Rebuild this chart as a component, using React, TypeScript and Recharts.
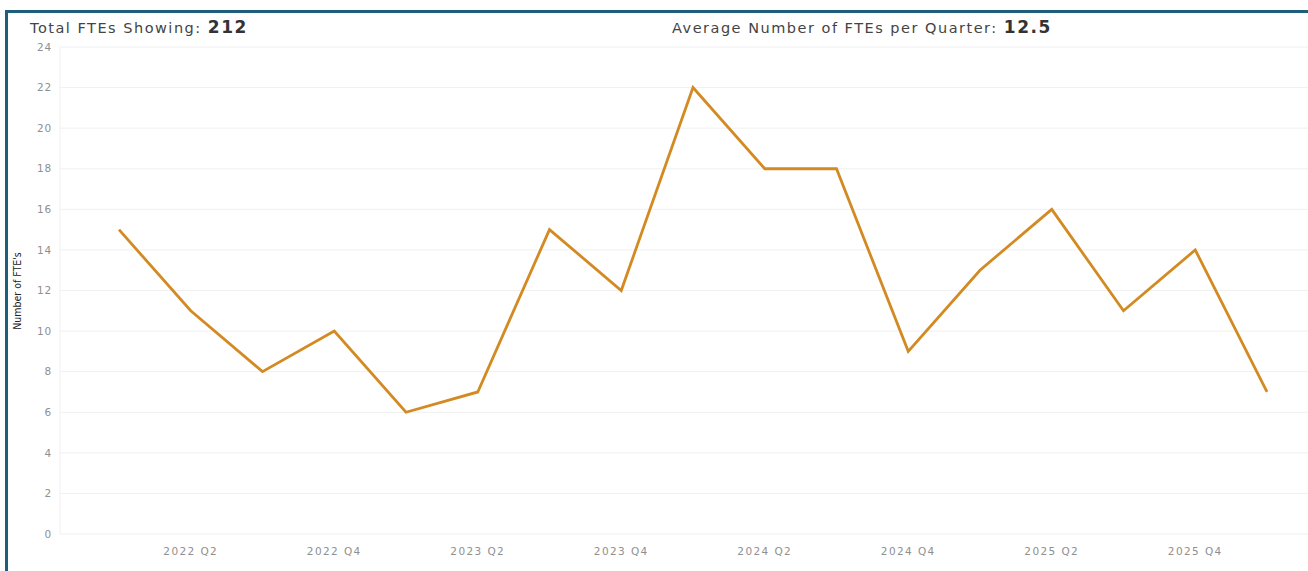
import React from 'react';
import { LineChart, Line, XAxis, YAxis, CartesianGrid } from 'recharts';

const quarters = [
  '2022 Q1', '2022 Q2', '2022 Q3', '2022 Q4',
  '2023 Q1', '2023 Q2', '2023 Q3', '2023 Q4',
  '2024 Q1', '2024 Q2', '2024 Q3', '2024 Q4',
  '2025 Q1', '2025 Q2', '2025 Q3', '2025 Q4',
  '2026 Q1',
];
const ftes = [15, 11, 8, 10, 6, 7, 15, 12, 22, 18, 18, 9, 13, 16, 11, 14, 7];
const yTicks = [0, 2, 4, 6, 8, 10, 12, 14, 16, 18, 20, 22, 24];
const shownLabels = ['2022 Q2', '2022 Q4', '2023 Q2', '2023 Q4', '2024 Q2', '2024 Q4', '2025 Q2', '2025 Q4'];

const totalLabel = 'Total FTEs Showing: ';
const totalValue = '212';
const avgLabel = 'Average Number of FTEs per Quarter: ';
const avgValue = '12.5';
const yAxisTitle = "Number of FTE's";

const data = quarters.map((q, i) => ({ quarter: q, value: ftes[i] }));

const FONT = '"DejaVu Sans", "Open Sans", sans-serif';

export default function App() {
  return (
    <div style={{ position: 'fixed', left: 0, top: 0, width: 1308, height: 571, background: '#fff', overflow: 'hidden', fontFamily: FONT }}>
      <div style={{ position: 'absolute', left: 5, top: 10, width: 1303, height: 3, background: '#1d5f7b' }} />
      <div style={{ position: 'absolute', left: 5, top: 10, width: 3, height: 561, background: '#1d5f7b' }} />
      <div style={{ position: 'absolute', left: 30, top: 17, fontSize: 14.5, color: '#444', whiteSpace: 'nowrap', letterSpacing: 1.5 }}>
        {totalLabel}
        <span style={{ fontWeight: 700, fontSize: 17, color: '#333', letterSpacing: 1.5 }}>{totalValue}</span>
      </div>
      <div style={{ position: 'absolute', left: 672, top: 17, fontSize: 14.5, color: '#444', whiteSpace: 'nowrap', letterSpacing: 1.5 }}>
        {avgLabel}
        <span style={{ fontWeight: 700, fontSize: 17, color: '#333', letterSpacing: 1.5 }}>{avgValue}</span>
      </div>
      <div
        style={{
          position: 'absolute', left: 17, top: 291, transform: 'translate(-50%, -50%) rotate(-90deg)',
          fontFamily: '"Liberation Sans Narrow", "DejaVu Sans Condensed", sans-serif', fontSize: 10.5, color: '#222', whiteSpace: 'nowrap',
        }}
      >
        {yAxisTitle}
      </div>
      <div style={{ position: 'absolute', left: 0, top: 0 }}>
        <LineChart width={1308} height={571} data={data} margin={{ top: 47, right: 0, bottom: 7, left: 0 }}>
          <CartesianGrid vertical={false} stroke="#f0f0f0" />
          <XAxis
            dataKey="quarter"
            interval={0}
            tickFormatter={(v: string) => (shownLabels.includes(v) ? v : '')}
            axisLine={false}
            tickLine={false}
            padding={{ left: 59, right: 41 }}
            height={30}
            tick={{ fontSize: 10.5, fill: '#8f8f8f', fontFamily: FONT, letterSpacing: 1.4 }}
            tickMargin={8}
          />
          <YAxis
            domain={[0, 24]}
            ticks={yTicks}
            width={60}
            axisLine={{ stroke: '#f0f0f0' }}
            tickLine={false}
            tickMargin={2}
            tick={{ fontSize: 10.5, fill: '#8f8f8f', fontFamily: FONT, letterSpacing: 0.8 }}
          />
          <Line
            type="linear"
            dataKey="value"
            stroke="#d38a22"
            strokeWidth={2.8}
            dot={false}
            activeDot={false}
            isAnimationActive={false}
          />
        </LineChart>
      </div>
    </div>
  );
}
